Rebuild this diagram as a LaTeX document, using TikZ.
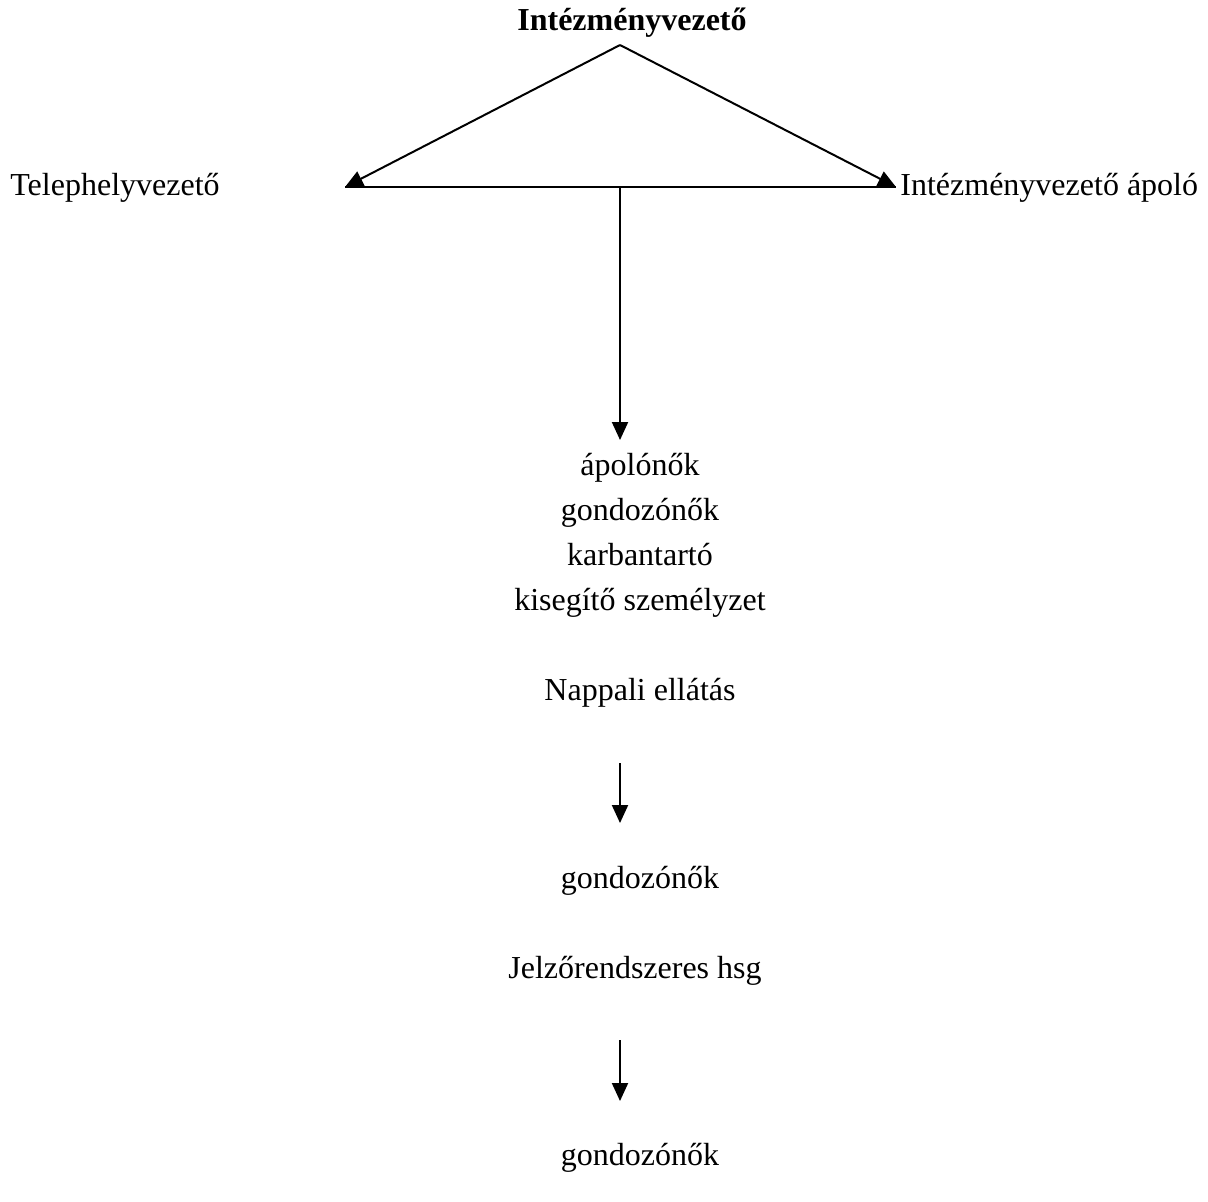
\documentclass[tikz,border=0pt]{standalone}
\usepackage{fontspec}
\setmainfont{Liberation Serif}
\usetikzlibrary{arrows.meta}
\tikzset{
  lbl/.style={inner sep=0pt, text height=12pt, text depth=4pt, font=\fontsize{16}{19}\selectfont},
  arr/.style={line width=1pt, -{Triangle[length=9pt,width=8pt]}},
  ln/.style={line width=1pt}
}
\begin{document}
\begin{tikzpicture}[x=0.5pt,y=-0.5pt]
\useasboundingbox (0,0) rectangle (1208,1201);
\node[lbl, font=\fontsize{16}{19}\selectfont\bfseries] (boss) at (632,22) {Intézményvezető};
\node[lbl, anchor=west] (site) at (10,187) {Telephelyvezető};
\node[lbl, anchor=west] (nurse) at (900,187) {Intézményvezető ápoló};
\coordinate (top) at (620,45);
\coordinate (left) at (345,187);
\coordinate (right) at (896,187);
\coordinate (mid) at (620,187);
\draw[arr] (top) -- (left);
\draw[arr] (top) -- (right);
\draw[ln] (left) -- (right);
\node[lbl] (apol) at (640,467) {ápolónők};
\node[lbl] (gond) at (640,512) {gondozónők};
\node[lbl] (karb) at (640,557) {karbantartó};
\node[lbl] (kise) at (640,602) {kisegítő személyzet};
\coordinate (apoltop) at (620,440);
\draw[arr] (mid) -- (apoltop);
\node[lbl] (napp) at (640,692) {Nappali ellátás};
\coordinate (nappa) at (620,763);
\coordinate (nappb) at (620,823);
\draw[arr] (nappa) -- (nappb);
\node[lbl] (gond2) at (640,880) {gondozónők};
\node[lbl] (jelz) at (635,970) {Jelzőrendszeres hsg};
\coordinate (jelza) at (620,1040);
\coordinate (jelzb) at (620,1101);
\draw[arr] (jelza) -- (jelzb);
\node[lbl] (gond3) at (640,1157) {gondozónők};
\end{tikzpicture}
\end{document}
